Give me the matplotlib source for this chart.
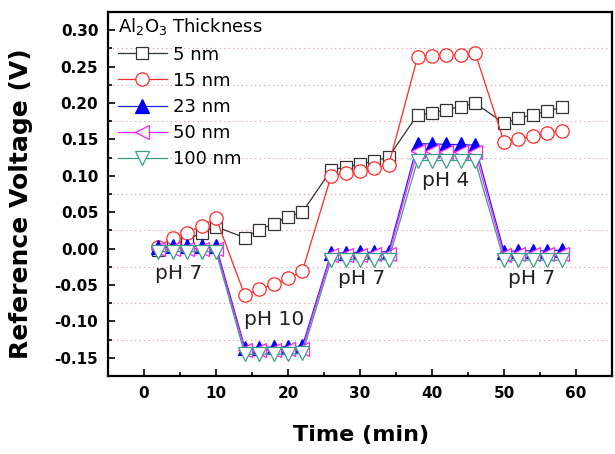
import matplotlib
matplotlib.use("Agg")
import matplotlib.pyplot as plt
import numpy as np

plt.rcParams['font.family'] = ['DejaVu Sans']
plt.rcParams['mathtext.fontset'] = 'dejavusans'

# ---- data ----
time = [2, 4, 6, 8, 10, 14, 16, 18, 20, 22, 26, 28, 30, 32, 34,
        38, 40, 42, 44, 46, 50, 52, 54, 56, 58]

v_5nm = [-0.002, 0.005, 0.012, 0.022, 0.030,
         0.015, 0.026, 0.034, 0.044, 0.050,
         0.108, 0.112, 0.116, 0.120, 0.126,
         0.184, 0.186, 0.191, 0.195, 0.200,
         0.172, 0.179, 0.184, 0.189, 0.194]
v_15nm = [0.002, 0.015, 0.022, 0.031, 0.042,
          -0.064, -0.056, -0.049, -0.041, -0.031,
          0.100, 0.104, 0.106, 0.111, 0.115,
          0.263, 0.265, 0.266, 0.266, 0.269,
          0.147, 0.151, 0.154, 0.159, 0.162]
v_23nm = [0.002, 0.003, 0.003, 0.003, 0.004,
          -0.136, -0.136, -0.135, -0.135, -0.134,
          -0.006, -0.006, -0.005, -0.005, -0.004,
          0.144, 0.144, 0.143, 0.143, 0.142,
          -0.004, -0.003, -0.003, -0.003, -0.002]
v_50nm = [-0.001, -0.001, 0.000, 0.000, 0.000,
          -0.139, -0.139, -0.139, -0.138, -0.138,
          -0.009, -0.009, -0.009, -0.008, -0.008,
          0.134, 0.134, 0.133, 0.133, 0.132,
          -0.009, -0.008, -0.008, -0.008, -0.007]
v_100nm = [-0.004, -0.004, -0.004, -0.004, -0.004,
           -0.145, -0.145, -0.145, -0.145, -0.144,
           -0.015, -0.015, -0.015, -0.015, -0.015,
           0.121, 0.121, 0.121, 0.121, 0.121,
           -0.016, -0.016, -0.016, -0.016, -0.016]

series_labels = ['5 nm', '15 nm', '23 nm', '50 nm', '100 nm']
ph_labels = ['pH 7', 'pH 10', 'pH 7', 'pH 4', 'pH 7']
ph_x = [4.8, 18.1, 30.3, 41.9, 53.9]
ph_y = [-0.034, -0.098, -0.041, 0.094, -0.041]

x_ticks = [0, 10, 20, 30, 40, 50, 60]
y_ticks = [-0.15, -0.10, -0.05, 0.00, 0.05, 0.10, 0.15, 0.20, 0.25, 0.30]

# ---- figure ----
fig = plt.figure(figsize=(6.15, 4.54), dpi=100)
ax = fig.add_axes([0.1756, 0.1718, 0.8194, 0.8018])

styles = [
    dict(color='#333333', marker='s', ms=8.0, mfc='white', mec='#333333'),
    dict(color='#ff2a2a', marker='o', ms=9.6, mfc='white', mec='#ff2a2a'),
    dict(color='#2020ff', marker='^', ms=10, mfc='#0000ff', mec='#0000ff'),
    dict(color='#ff20ff', marker='<', ms=10, mfc='white', mec='#ff20ff'),
    dict(color='#3c9c8c', marker='v', ms=10, mfc='white', mec='#3c9c8c'),
]
all_vals = [v_5nm, v_15nm, v_23nm, v_50nm, v_100nm]
for vals, lab, st in zip(all_vals, series_labels, styles):
    ax.plot(time, vals, label=lab, lw=0.9, mew=0.9, **st)

for t, x, y in zip(ph_labels, ph_x, ph_y):
    ax.text(x, y, t, fontsize=14.5, ha='center', va='center', color='#222222')

ax.set_xlim(-5, 65)
ax.set_ylim(-0.175, 0.32)
ax.set_xticks(x_ticks)
ax.set_yticks(y_ticks)
ax.set_xticklabels([str(v) for v in x_ticks])
ax.set_yticklabels([f"{v:.2f}" for v in y_ticks])
ax.set_xticks(np.arange(-5, 66, 5), minor=True)
ax.set_yticks(np.arange(-0.175, 0.33, 0.025), minor=True)

ax.grid(which='minor', axis='y', color='#d89a9a', linestyle=(0, (1, 3)), lw=0.8)
ax.grid(which='major', axis='both', visible=False)
ax.set_axisbelow(True)

ax.tick_params(which='both', direction='in', top=False, right=False, width=1.2)
ax.tick_params(which='major', length=5, pad=7, labelsize=11)
ax.tick_params(which='minor', length=3)
for lbl in ax.get_xticklabels() + ax.get_yticklabels():
    lbl.set_fontweight('bold')

for sp in ax.spines.values():
    sp.set_linewidth(1.6)

ax.set_xlabel('Time (min)', fontsize=16, fontweight='bold')
ax.set_ylabel('Reference Voltage (V)', fontsize=18, fontweight='bold')
ax.xaxis.set_label_coords(0.502, -0.135)
ax.yaxis.set_label_coords(-0.148, 0.474)

leg = ax.legend(loc='upper left', bbox_to_anchor=(0.011, 1.0), frameon=False,
                fontsize=13, title='Al$_2$O$_3$ Thickness', title_fontsize=13,
                handlelength=2.7, handletextpad=0.35, labelspacing=0.45,
                borderpad=0.25, borderaxespad=0.0)
leg._legend_box.align = 'left'

fig.savefig('out.png', dpi=100)
